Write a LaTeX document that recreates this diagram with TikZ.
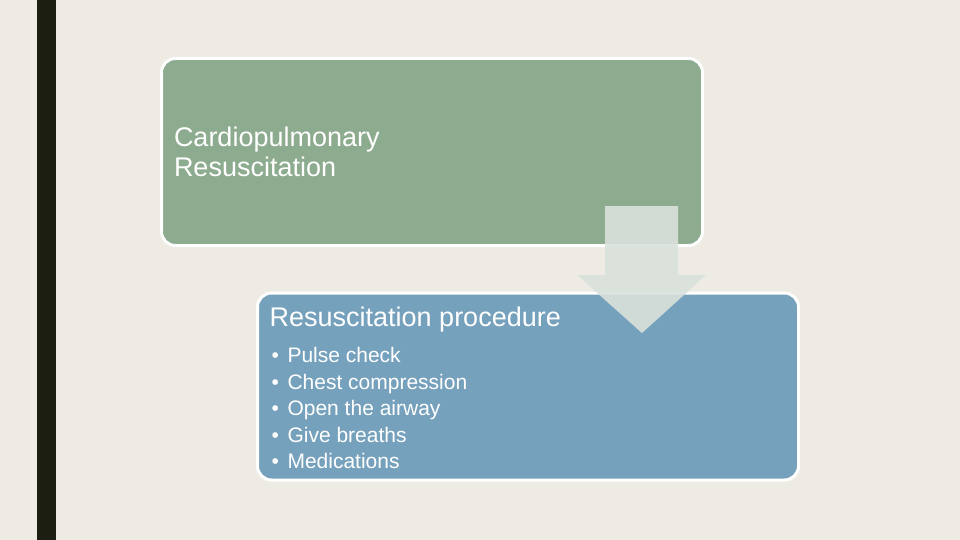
\documentclass[tikz,border=0pt]{standalone}
\usepackage{fontspec}
\setmainfont{Liberation Sans}
\usepackage{xcolor}
\usetikzlibrary{positioning,calc}

\definecolor{slidebg}{HTML}{EEEBE4}
\definecolor{sidebar}{HTML}{1C1E12}
\definecolor{cprgreen}{HTML}{8DAB8E}
\definecolor{stepblue}{HTML}{76A1BC}
\definecolor{arrowfill}{HTML}{DAE2DC}

\begin{document}
\begin{tikzpicture}[x=1pt, y=-1pt]
  % Styles
  \tikzstyle{stage} = [rectangle, draw=white, line width=3pt, rounded corners=14pt, minimum width=541pt, minimum height=187pt, inner sep=0pt, text=white]
  \tikzstyle{heading} = [text=white, inner sep=0pt, font=\fontsize{27}{30}\selectfont]
  \tikzstyle{item} = [text=white, inner sep=0pt, font=\fontsize{21}{26.5}\selectfont]

  % Slide background
  \fill [slidebg] (0,0) rectangle (960,540);
  \useasboundingbox (0,0) rectangle (960,540);
  \fill [sidebar] (37,0) rectangle (56,540);

  % Boxes
  \node [stage, fill=cprgreen, text width=516pt, align=left, font=\fontsize{27}{29.5}\selectfont] (cpr) at (432,152) {Cardiopulmonary\\Resuscitation};
  \node [stage, fill=stepblue] (procedure) at (528,386.5) {};

  % Arrow between the boxes
  \coordinate (shaftL) at (605,206);
  \coordinate (shaftR) at (678,206);
  \coordinate (tip) at (642,333);
  \fill [arrowfill, opacity=0.9] (shaftL) -- (shaftR) -- (678,275) -- (706,275) -- (tip) -- (577,275) -- (605,275) -- cycle;

  % Text of the second box
  \node [heading, anchor=base west] (title) at ($(procedure.north west)+(13.5,35)$) {Resuscitation procedure};
  \foreach \txt [count=\i] in {Pulse check, Chest compression, Open the airway, Give breaths, Medications}
    \node [item, anchor=base west] (item\i) at ($(procedure.north west)+(15.5,{71+26.5*(\i-1)})$) {\textbullet\hspace{8.5pt}\txt};

\end{tikzpicture}
\end{document}
